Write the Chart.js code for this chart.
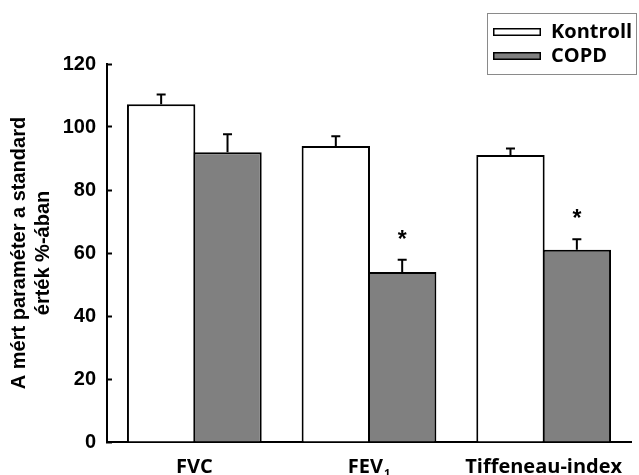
<!DOCTYPE html>
<html><head><meta charset="utf-8">
<script src="https://cdn.jsdelivr.net/npm/chart.js@4"></script>
<style>html,body{margin:0;padding:0;background:#fff;overflow:hidden}</style>
</head><body>
<canvas id="c" width="639" height="475" style="display:block;width:639px;height:475px"></canvas>
<script>
const categories = ['FVC', 'FEV\u2081', 'Tiffeneau-index'];
const seriesNames = ['Kontroll', 'COPD'];
const kontroll = [107.2, 94.0, 91.1];
const kontrollErr = [3.4, 3.4, 2.4];
const copd = [92.0, 54.0, 61.0];
const copdErr = [6.0, 4.2, 3.7];
const copdSignificant = [false, true, true];
const yMin = 0, yMax = 120, yStep = 20;
const yTitle = ['A mért paraméter a standard', 'érték %-ában'];

const errors = [kontrollErr, copdErr];
const stars = [[false, false, false], copdSignificant];

const errorBarPlugin = {
  id: 'errorBars',
  afterDatasetsDraw(chart) {
    const ctx = chart.ctx, ys = chart.scales.y;
    ctx.save();
    ctx.strokeStyle = '#000';
    ctx.lineWidth = 2;
    chart.data.datasets.forEach((ds, di) => {
      const meta = chart.getDatasetMeta(di);
      meta.data.forEach((bar, i) => {
        const top = ys.getPixelForValue(ds.data[i] + errors[di][i]);
        ctx.beginPath();
        ctx.moveTo(bar.x, bar.y);
        ctx.lineTo(bar.x, top);
        ctx.moveTo(bar.x - 4.5, top + 1);
        ctx.lineTo(bar.x + 4.5, top + 1);
        ctx.stroke();
        if (stars[di][i]) {
          ctx.fillStyle = '#000';
          ctx.font = 'bold 23px "Liberation Sans", Arial, sans-serif';
          ctx.textAlign = 'center';
          ctx.textBaseline = 'alphabetic';
          ctx.fillText('*', bar.x, top - 22 + 10);
        }
      });
    });
    ctx.restore();
  }
};

const xLabelPlugin = {
  id: 'xLabels',
  afterDraw(chart) {
    const ctx = chart.ctx, xs = chart.scales.x;
    ctx.save();
    ctx.fillStyle = '#000';
    ctx.textBaseline = 'alphabetic';
    ctx.textAlign = 'left';
    chart.data.labels.forEach((lab, i) => {
      let main = lab, sub = '';
      const last = lab.charCodeAt(lab.length - 1);
      if (last >= 0x2080 && last <= 0x2089) {
        sub = String.fromCharCode(last - 0x2080 + 48);
        main = lab.slice(0, -1);
      }
      ctx.font = '700 20px "Open Sans", sans-serif';
      const wm = ctx.measureText(main).width;
      ctx.font = '700 11px "Open Sans", sans-serif';
      const ws = sub ? ctx.measureText(sub).width + 1 : 0;
      const x0 = xs.getPixelForTick(i) - (wm + ws) / 2;
      ctx.font = '700 20px "Open Sans", sans-serif';
      ctx.fillText(main, x0, 473);
      if (sub) {
        ctx.font = '700 11px "Open Sans", sans-serif';
        ctx.fillText(sub, x0 + wm + 1, 477);
      }
    });
    ctx.restore();
  }
};

const legendPlugin = {
  id: 'boxLegend',
  afterDraw(chart) {
    const ctx = chart.ctx;
    ctx.save();
    ctx.strokeStyle = '#8a8a8a';
    ctx.lineWidth = 1;
    ctx.strokeRect(487.5, 13.5, 149, 61);
    chart.data.datasets.forEach((ds, i) => {
      const cy = 32 + i * 24;
      ctx.fillStyle = ds.backgroundColor;
      ctx.fillRect(493, cy - 4, 48, 8);
      ctx.lineWidth = 1.5;
      ctx.strokeStyle = '#000';
      ctx.strokeRect(493.75, cy - 3.25, 46.5, 6.5);
      ctx.font = '700 20px "Open Sans", sans-serif';
      ctx.fillStyle = '#000';
      ctx.textBaseline = 'middle';
      ctx.textAlign = 'left';
      ctx.fillText(ds.label, 551, cy);
    });
    ctx.restore();
  }
};

new Chart(document.getElementById('c'), {
  type: 'bar',
  data: {
    labels: categories,
    datasets: [
      { label: seriesNames[0], data: kontroll, backgroundColor: '#ffffff', borderColor: '#000', borderWidth: 2 },
      { label: seriesNames[1], data: copd, backgroundColor: '#808080', borderColor: '#000', borderWidth: 2 }
    ]
  },
  options: {
    responsive: false,
    animation: false,
    devicePixelRatio: 1,
    layout: { padding: { left: 0, top: 64, right: 8, bottom: 33 } },
    datasets: { bar: { categoryPercentage: 0.76, barPercentage: 1.03, borderSkipped: 'start' } },
    plugins: { legend: { display: false }, tooltip: { enabled: false } },
    scales: {
      x: {
        grid: { display: false, drawTicks: false },
        ticks: { display: false },
        border: { display: true, color: '#000', width: 2 }
      },
      y: {
        min: yMin, max: yMax,
        afterFit(scale) { scale.width = 107; },
        ticks: {
          stepSize: yStep,
          color: '#000',
          padding: 16,
          font: { family: '"Liberation Sans", Arial, sans-serif', size: 20, weight: 'bold' }
        },
        grid: { drawOnChartArea: false, drawTicks: true, tickLength: -5, tickWidth: 2, tickColor: '#000' },
        border: { display: true, color: '#000', width: 2 },
        title: {
          display: true,
          text: yTitle,
          color: '#000',
          padding: { top: 7, bottom: 0 },
          font: { family: '"Liberation Sans", Arial, sans-serif', size: 20, weight: 'bold', lineHeight: 1.2 }
        }
      }
    }
  },
  plugins: [errorBarPlugin, xLabelPlugin, legendPlugin]
});
</script>
</body></html>
